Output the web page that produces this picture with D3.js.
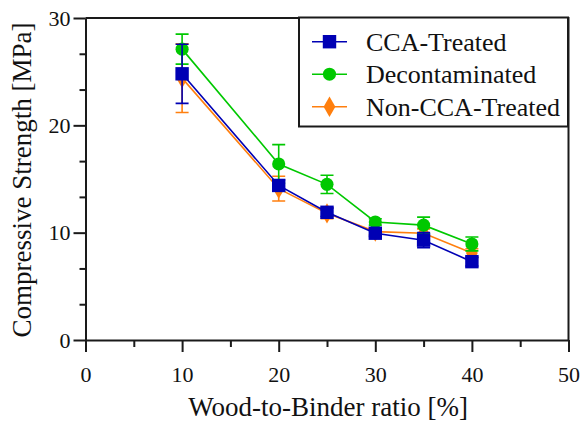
<!DOCTYPE html>
<html>
<head>
<meta charset="utf-8">
<script src="https://cdn.jsdelivr.net/npm/d3@7"></script>
</head>
<body style="margin:0">
<svg id="chart" width="582" height="425"></svg>
<script>
// Wood-to-binder ratio (%) tested for each mix
const ratios = [10, 20, 25, 30, 35, 40];

// Mean compressive strength (MPa) and standard deviation per series
const ccaMean    = [24.8, 14.4, 11.9, 9.95, 9.3, 7.3];
const ccaErr     = [2.75, 0.5, 0.4, 0.3, 0.7, 0.4];
const deconMean  = [27.1, 16.4, 14.5, 11.0, 10.7, 8.95];
const deconErr   = [1.4, 1.8, 0.85, 0.3, 0.75, 0.65];
const nonCcaMean = [24.4, 14.1, 11.8, 10.1, 9.95, 8.1];
const nonCcaErr  = [3.2, 1.15, 0.5, 0.3, 0.4, 0.4];

const seriesNames = ["CCA-Treated", "Decontaminated", "Non-CCA-Treated"];
const xTicks = [0, 10, 20, 30, 40, 50];
const yTicks = [0, 10, 20, 30];

const svg = d3.select("#chart");
const plotLeft = 85.5, plotRight = 568.5, plotTop = 18, plotBottom = 340;

const x = d3.scaleLinear().domain([0, 50]).range([plotLeft, plotRight]);
const y = d3.scaleLinear().domain([0, 30]).range([plotBottom, plotTop]);

const axisColor = "#1a1a1a";
const textFont = '"Times New Roman"';

// Series definitions (drawn in this order: orange, green, blue on top)
const series = [
  { name: seriesNames[2], mean: nonCcaMean, err: nonCcaErr, color: "#ff7f0e", shape: d3.symbolDiamond, size: 120 },
  { name: seriesNames[1], mean: deconMean,  err: deconErr,  color: "#00c800", shape: d3.symbolCircle,  size: 135 },
  { name: seriesNames[0], mean: ccaMean,    err: ccaErr,    color: "#0000b4", shape: d3.symbolSquare,  size: 180 }
];

// Frame: top and right edges
svg.append("path")
  .attr("d", `M${plotLeft},${plotTop}H${plotRight}V${plotBottom}`)
  .attr("fill", "none").attr("stroke", axisColor).attr("stroke-width", 2);

// Minor ticks
const gxMinor = svg.append("g").attr("transform", `translate(0,${plotBottom})`)
  .call(d3.axisBottom(x).tickValues([5, 15, 25, 35, 45]).tickSize(7).tickFormat(""));
const gyMinor = svg.append("g").attr("transform", `translate(${plotLeft},0)`)
  .call(d3.axisLeft(y).tickValues([10/3, 20/3, 40/3, 50/3, 70/3, 80/3]).tickSize(6).tickFormat(""));

// Major axes
const gx = svg.append("g").attr("transform", `translate(0,${plotBottom})`)
  .call(d3.axisBottom(x).tickValues(xTicks).tickSize(12).tickPadding(14).tickSizeOuter(0));
const gy = svg.append("g").attr("transform", `translate(${plotLeft},0)`)
  .call(d3.axisLeft(y).tickValues(yTicks).tickSize(12).tickPadding(3).tickSizeOuter(0));

[gx, gy, gxMinor, gyMinor].forEach(g => {
  g.attr("font-family", null).attr("font-size", null);
  g.selectAll(".domain").attr("stroke", axisColor).attr("stroke-width", 2);
  g.selectAll(".tick line").attr("stroke", axisColor).attr("stroke-width", 2);
  g.selectAll(".tick text").attr("fill", "#111").attr("font-size", 22)
    .style("font-family", textFont);
});
gxMinor.select(".domain").remove();
gyMinor.select(".domain").remove();

// Axis titles
svg.append("text")
  .attr("x", (plotLeft + plotRight) / 2 + 1).attr("y", 416)
  .attr("text-anchor", "middle").attr("font-size", 27).attr("fill", "#111")
  .style("font-family", textFont)
  .text("Wood-to-Binder ratio [%]");

svg.append("text")
  .attr("transform", `translate(31,180) rotate(-90)`)
  .attr("text-anchor", "middle").attr("font-size", 27).attr("fill", "#111")
  .style("font-family", textFont)
  .text("Compressive Strength [MPa]");

// Data
const line = d3.line().x(d => x(d[0])).y(d => y(d[1]));
const capHalf = 6.5;

series.forEach(s => {
  const pts = ratios.map((r, i) => [r, s.mean[i], s.err[i]]);
  const g = svg.append("g");
  g.append("path").datum(pts).attr("d", line)
    .attr("fill", "none").attr("stroke", s.color).attr("stroke-width", 1.6);
  pts.forEach(p => {
    const cx = x(p[0]), y1 = y(p[1] + p[2]), y2 = y(p[1] - p[2]);
    g.append("path")
      .attr("d", `M${cx},${y1}V${y2}M${cx - capHalf},${y1}H${cx + capHalf}M${cx - capHalf},${y2}H${cx + capHalf}`)
      .attr("fill", "none").attr("stroke", s.color).attr("stroke-width", 1.6);
  });
  g.selectAll(".mark").data(pts).join("path")
    .attr("transform", d => `translate(${x(d[0])},${y(d[1])})`)
    .attr("d", d3.symbol().type(s.shape).size(s.size))
    .attr("fill", s.color);
});

// Legend
const legend = svg.append("g");
legend.append("rect")
  .attr("x", 299).attr("y", 17.5).attr("width", 269).attr("height", 109)
  .attr("fill", "#fff").attr("stroke", axisColor).attr("stroke-width", 2);

const legendOrder = [series[2], series[1], series[0]];
legendOrder.forEach((s, i) => {
  const ly = 41.7 + i * 32.5;
  legend.append("line").attr("x1", 312).attr("x2", 347).attr("y1", ly).attr("y2", ly)
    .attr("stroke", s.color).attr("stroke-width", 1.6);
  legend.append("path").attr("transform", `translate(329.5,${ly})`)
    .attr("d", d3.symbol().type(s.shape).size(s.size)).attr("fill", s.color);
  legend.append("text").attr("x", 366).attr("y", ly).attr("dy", "0.35em")
    .attr("font-size", 26).attr("fill", "#111")
    .style("font-family", textFont)
    .text(s.name);
});
</script>
</body>
</html>
